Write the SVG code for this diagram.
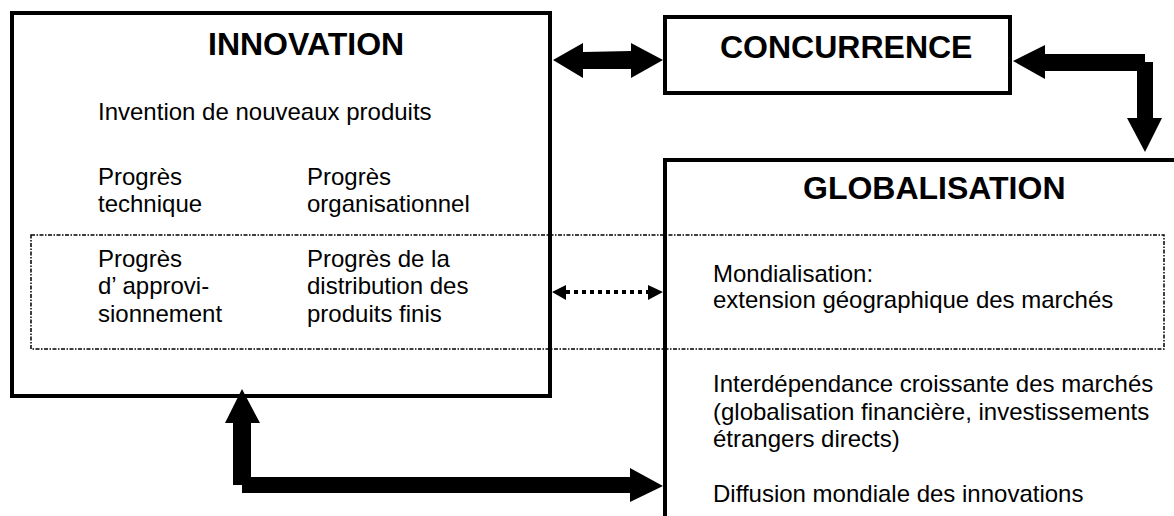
<svg xmlns="http://www.w3.org/2000/svg" width="1174" height="516" viewBox="0 0 1174 516">
<style>
.box{fill:none;stroke:#000;stroke-width:4;stroke-linejoin:miter}
.zone{fill:none;stroke:#000;stroke-width:1.5;stroke-dasharray:4 1.5 1.5 1.5}
.t{font-family:"Liberation Sans",Arial,sans-serif;font-size:24px;fill:#000}
.h{font-family:"Liberation Sans",Arial,sans-serif;font-size:32px;font-weight:bold;fill:#000}
.a{fill:#000}
</style>
<rect x="0" y="0" width="1174" height="516" fill="#fff"/>
<g id="zone-mondialisation">
<rect class="zone" x="31" y="235" width="1133" height="114"/>
</g>
<g id="innovation">
<rect class="box" x="12" y="13" width="538" height="383"/>
<text class="h" x="208" y="55">INNOVATION</text>
<text class="t" x="98" y="120">Invention de nouveaux produits</text>
<text class="t" x="98" y="185">Progrès</text>
<text class="t" x="98" y="212">technique</text>
<text class="t" x="307" y="185">Progrès</text>
<text class="t" x="307" y="212">organisationnel</text>
<text class="t" x="98" y="267">Progrès</text>
<text class="t" x="98" y="294">d’ approvi-</text>
<text class="t" x="98" y="322">sionnement</text>
<text class="t" x="307" y="267">Progrès de la</text>
<text class="t" x="307" y="294">distribution des</text>
<text class="t" x="307" y="322">produits finis</text>
</g>
<g id="concurrence">
<rect class="box" x="665" y="17" width="345" height="76"/>
<text class="h" x="720" y="58">CONCURRENCE</text>
</g>
<g id="globalisation">
<rect class="box" x="665" y="160" width="560" height="400"/>
<text class="h" x="803" y="199">GLOBALISATION</text>
<text class="t" x="713" y="282">Mondialisation:</text>
<text class="t" x="713" y="308">extension géographique des marchés</text>
<text class="t" x="713" y="392">Interdépendance croissante des marchés</text>
<text class="t" x="713" y="420">(globalisation financière, investissements</text>
<text class="t" x="713" y="447">étrangers directs)</text>
<text class="t" x="713" y="502">Diffusion mondiale des innovations</text>
</g>
<g id="connectors">
<!-- innovation <-> concurrence -->
<polygon class="a" points="553,60 583,43 583,52 631,51 631,43 663,60 631,78 631,69 583,69 583,78"/>
<!-- concurrence <-> globalisation -->
<polygon class="a" points="1013,61 1045,45 1045,54 1145,54 1145,62 1153,62 1153,118 1162,118 1145,152 1127,118 1137,118 1137,71 1045,71 1045,79"/>
<!-- innovation <-> globalisation (bottom) -->
<polygon class="a" points="242,389 260,423 251,423 251,477 630,477 630,468 663,486 630,502 630,493 242,493 242,485 233,485 233,423 225,423"/>
<!-- dotted double arrow -->
<line x1="566" y1="292" x2="648" y2="292" stroke="#000" stroke-width="4" stroke-dasharray="4 4"/>
<polygon class="a" points="552,292 566,285 566,300"/>
<polygon class="a" points="663,292 648,285 648,300"/>
</g>
</svg>
